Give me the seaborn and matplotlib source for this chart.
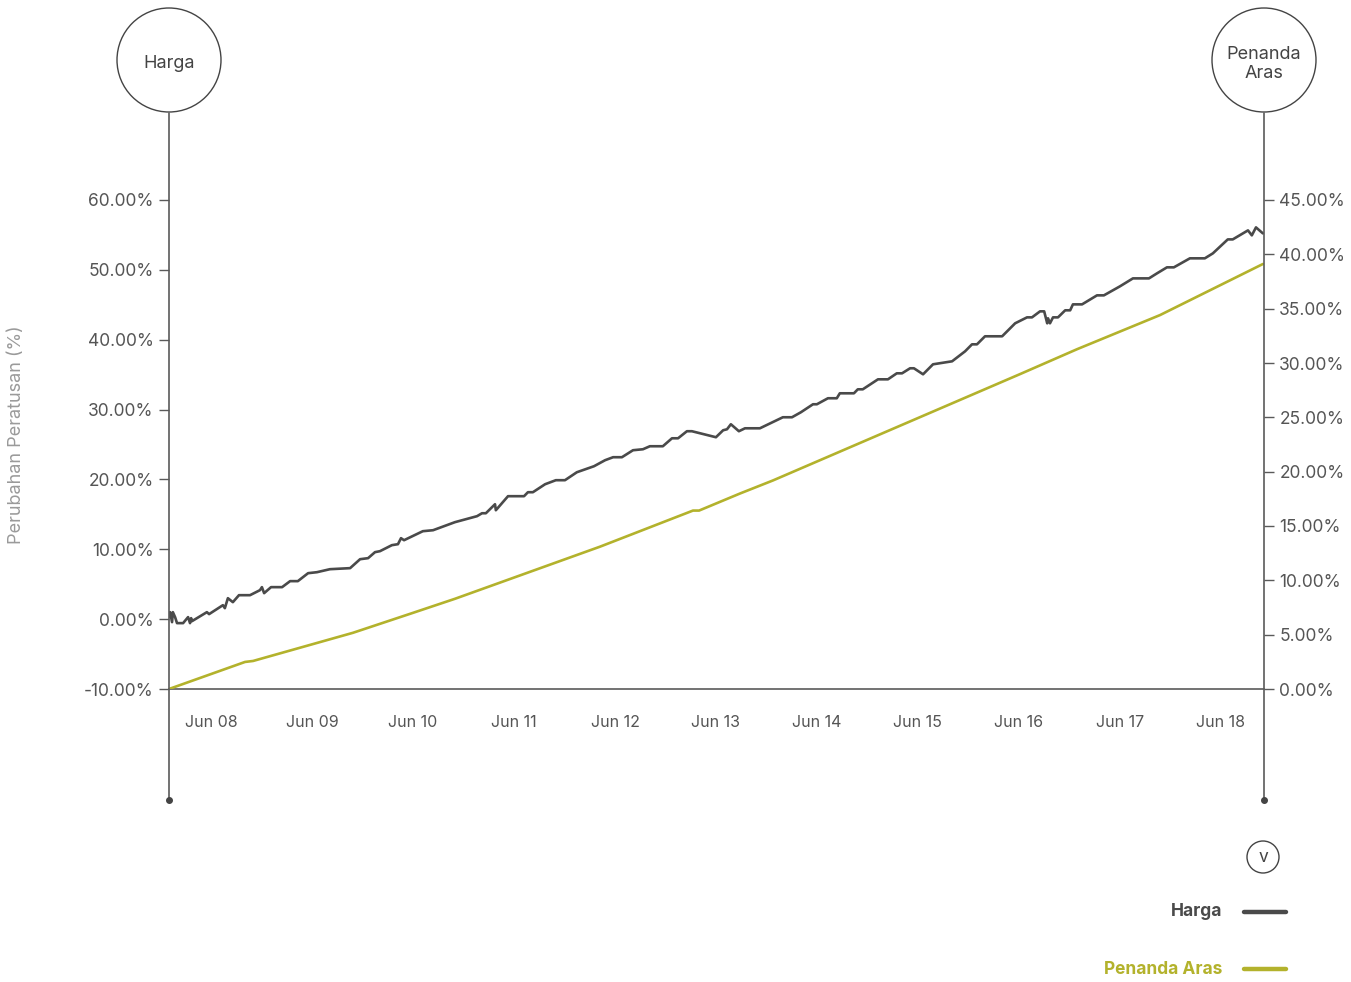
import pandas as pd
import matplotlib
matplotlib.use("Agg")
import matplotlib.pyplot as plt
import matplotlib.dates as mdates
from matplotlib.patches import Circle
from matplotlib.lines import Line2D
from matplotlib.ticker import FuncFormatter
import seaborn as sns

# data (days counted from start_date)
start_date = "2008-01-01"
end_day = 3960

harga_days = [0, 4, 11, 14, 22, 29, 51, 69, 76, 80, 83, 137, 145, 195, 202, 213, 231, 253,
              293, 329, 336, 344, 369, 409, 438, 466, 503, 535, 582, 655, 691, 720, 745, 763,
              806, 828, 839, 850, 918, 955, 1034, 1114, 1132, 1146, 1179, 1182, 1226, 1284,
              1298, 1316, 1360, 1399, 1432, 1475, 1537, 1577, 1606, 1638, 1678, 1714, 1739,
              1786, 1819, 1841, 1873, 1891, 1978, 2004, 2018, 2032, 2061, 2083, 2137, 2220,
              2253, 2285, 2329, 2343, 2383, 2415, 2426, 2477, 2491, 2509, 2564, 2600, 2632,
              2651, 2680, 2694, 2727, 2763, 2832, 2879, 2904, 2922, 2951, 3013, 3060, 3103,
              3121, 3150, 3165, 3176, 3179, 3186, 3197, 3215, 3241, 3259, 3269, 3302, 3356,
              3381, 3439, 3486, 3544, 3573, 3609, 3634, 3692, 3746, 3775, 3829, 3847, 3902,
              3916, 3931, 3956]
harga_pct = [0.29, 1.00, -0.43, 1.00, 0.29, -0.57, -0.57, 0.29, -0.57, 0.14, -0.29, 1.00, 0.72,
             2.00, 1.57, 3.00, 2.43, 3.43, 3.43, 4.15, 4.58, 3.72, 4.58, 4.58, 5.44, 5.44, 6.58,
             6.72, 7.15, 7.30, 8.58, 8.73, 9.59, 9.73, 10.59, 10.73, 11.59, 11.30, 12.59, 12.73,
             13.88, 14.74, 15.16, 15.16, 16.45, 15.59, 17.60, 17.60, 18.17, 18.17, 19.31, 19.89,
             19.89, 21.03, 21.89, 22.75, 23.18, 23.18, 24.18, 24.32, 24.75, 24.75, 25.89, 25.89,
             26.90, 26.90, 26.04, 27.04, 27.18, 27.90, 26.90, 27.32, 27.32, 28.90, 28.90, 29.61,
             30.76, 30.76, 31.62, 31.62, 32.33, 32.33, 32.90, 32.90, 34.33, 34.33, 35.19, 35.19,
             35.91, 35.91, 35.05, 36.48, 36.91, 38.34, 39.34, 39.34, 40.49, 40.49, 42.35, 43.20,
             43.20, 44.06, 44.06, 42.35, 43.06, 42.35, 43.20, 43.20, 44.21, 44.21, 45.06, 45.06,
             46.35, 46.35, 47.64, 48.78, 48.78, 49.50, 50.36, 50.36, 51.65, 51.65, 52.36, 54.36,
             54.36, 55.65, 54.94, 56.08, 55.22]

aras_days = [0, 275, 304, 665, 872, 1034, 1559, 1895, 1917, 2065, 2184, 2445, 3077, 3284,
             3584, 3956]
aras_pct = [0.0, 2.49, 2.58, 5.17, 6.92, 8.30, 13.10, 16.42, 16.42, 17.99, 19.19, 22.05,
            28.97, 31.27, 34.41, 39.11]

left_ticks = [-10, 0, 10, 20, 30, 40, 50, 60]
right_ticks = [0, 5, 10, 15, 20, 25, 30, 35, 40, 45]

dark = "#4a4a4a"
olive = "#b3b22c"
axis_col = "#5a5a5a"

start = pd.Timestamp(start_date)
harga = pd.DataFrame({"Tarikh": start + pd.to_timedelta(harga_days, unit="D"), "Harga": harga_pct})
aras = pd.DataFrame({"Tarikh": start + pd.to_timedelta(aras_days, unit="D"), "Penanda Aras": aras_pct})

sns.set_style("white")
plt.rcParams["font.family"] = ["Inter", "DejaVu Sans"]

W, H = 1351, 982
fig = plt.figure(figsize=(W / 100, H / 100), dpi=100)
ax = fig.add_axes([169 / W, 1 - 689 / H, (1264 - 169) / W, (689 - 200) / H])
ax2 = ax.twinx()

sns.lineplot(data=harga, x="Tarikh", y="Harga", ax=ax, color=dark, lw=1.9)
sns.lineplot(data=aras, x="Tarikh", y="Penanda Aras", ax=ax2, color=olive, lw=1.9)

ax.set_xlim(start, start + pd.Timedelta(days=end_day))
ax.set_ylim(-10, 60)
ax2.set_ylim(0, 45)
ax.set_xlabel("")
ax.set_ylabel("")
ax2.set_ylabel("")

ax.xaxis.set_major_locator(mdates.MonthLocator(bymonth=6))
ax.xaxis.set_major_formatter(mdates.DateFormatter("%b %y"))
ax.set_yticks(left_ticks)
ax2.set_yticks(right_ticks)
pct_fmt = FuncFormatter(lambda v, p: f"{v:.2f}%")
ax.yaxis.set_major_formatter(pct_fmt)
ax2.yaxis.set_major_formatter(pct_fmt)

tick_col = "#555555"
ax.tick_params(axis="x", length=0, pad=19, labelsize=11.5, labelcolor=tick_col)
ax.tick_params(axis="y", length=7, width=1, color=axis_col, pad=4, labelsize=12.5, labelcolor=tick_col)
ax2.tick_params(axis="y", length=7, width=1, color=axis_col, pad=4, labelsize=12.5, labelcolor=tick_col)

for a in (ax, ax2):
    for s in a.spines.values():
        s.set_visible(False)
ax.spines["bottom"].set_visible(True)
ax.spines["bottom"].set_color(axis_col)
ax.spines["bottom"].set_linewidth(1.2)


def fx(x):
    return x / W


def fy(y):
    return 1 - y / H


# vertical guide lines with end dots
for xp in (169, 1264):
    fig.add_artist(Line2D([fx(xp), fx(xp)], [fy(113), fy(800)], color=axis_col, lw=1.2))
    fig.add_artist(Line2D([fx(xp)], [fy(800)], marker="o", ms=4, color="#444444"))

# circles at the top
for xp, label in ((169, "Harga"), (1264, "Penanda\nAras")):
    fig.add_artist(Circle((xp / 100, (H - 60) / 100), 0.52, transform=fig.dpi_scale_trans,
                          fill=False, ec="#444444", lw=1.0))
    fig.text(fx(xp), fy(64), label, ha="center", va="center", fontsize=13,
             color="#444444", linespacing=1.15)

# small toggle circle
fig.add_artist(Circle((1263 / 100, (H - 857) / 100), 0.16, transform=fig.dpi_scale_trans,
                      fill=False, ec="#444444", lw=1.0))
fig.text(fx(1263), fy(858), "v", ha="center", va="center", fontsize=12.5, color="#444444")

# y label
fig.text(fx(17), fy(435), "Perubahan Peratusan (%)", rotation=90, ha="center", va="center",
         fontsize=13, color="#9a9a9a")

# legend
for yp, label, col in ((912, "Harga", dark), (969, "Penanda Aras", olive)):
    fig.text(fx(1222), fy(yp), label, ha="right", va="center",
             fontsize=12.5, fontweight="bold", color=col)
    fig.add_artist(Line2D([fx(1244), fx(1286)], [fy(yp), fy(yp)], color=col, lw=3.2,
                          solid_capstyle="round"))

fig.savefig("out.png", dpi=100, facecolor="white")
